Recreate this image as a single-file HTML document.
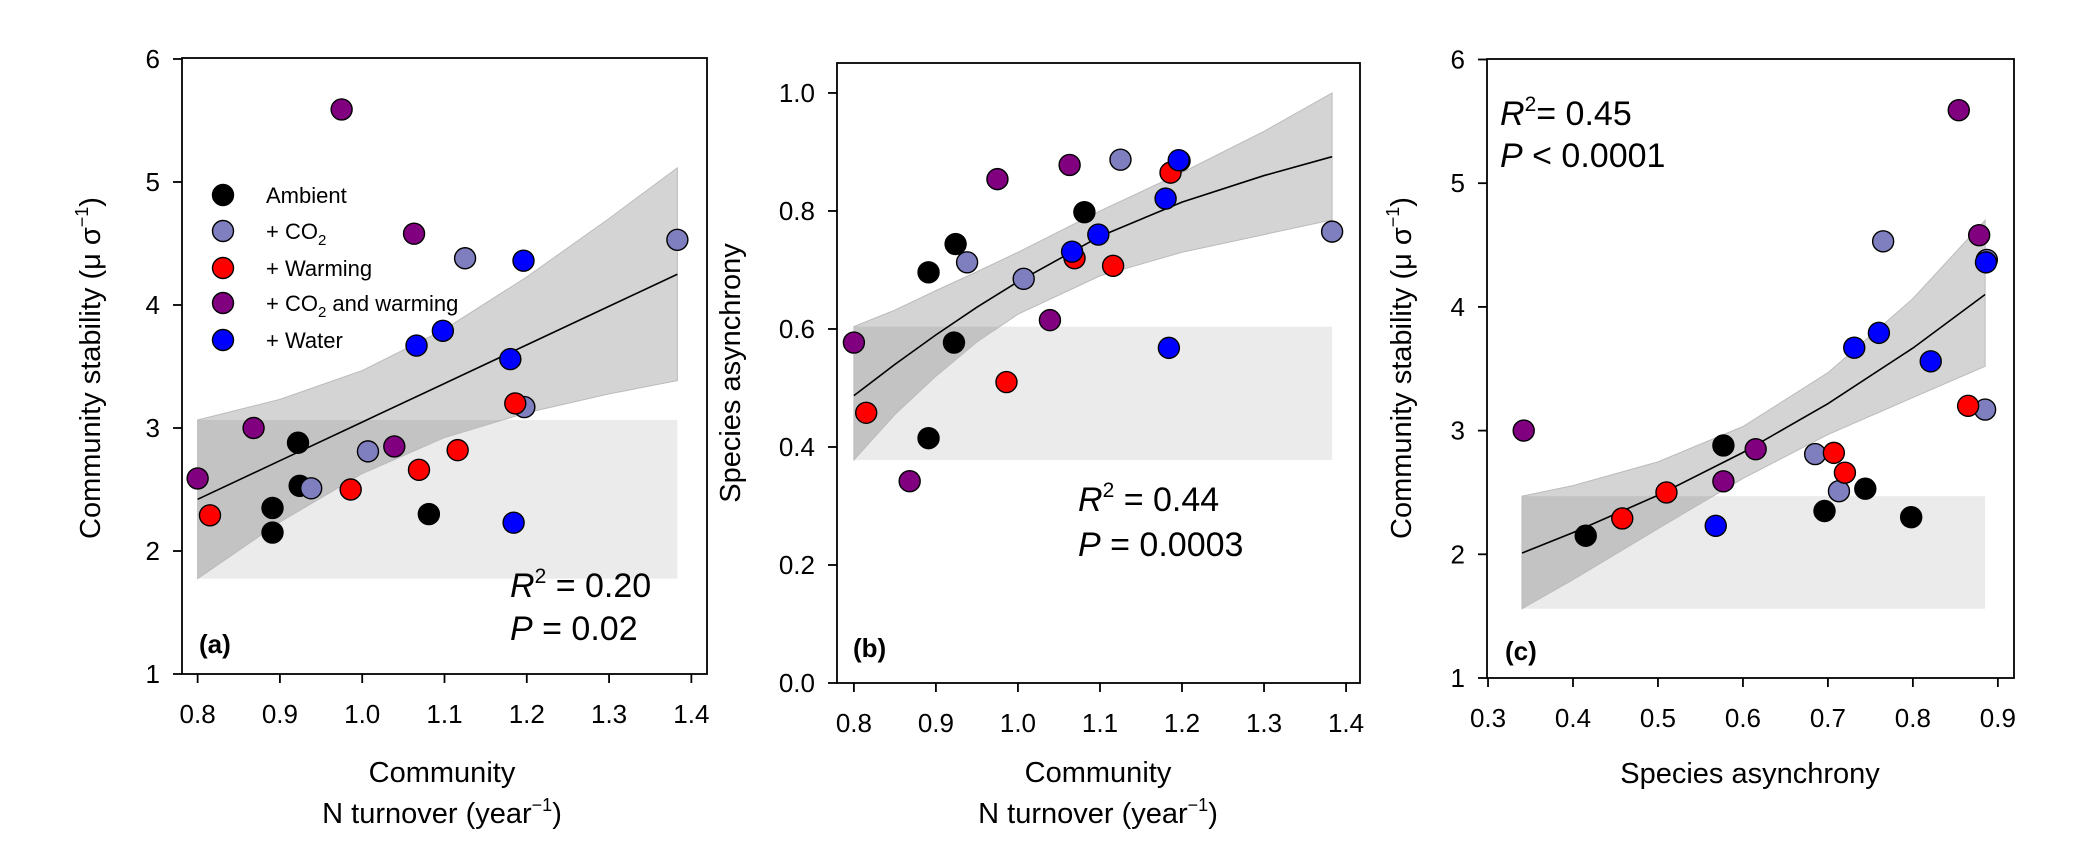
<!DOCTYPE html>
<html><head><meta charset="utf-8"><style>
html,body{margin:0;padding:0;background:#fff;}
svg{display:block;font-family:"Liberation Sans",Arial,sans-serif;}
</style></head><body>
<svg id="fig" width="2092" height="861" viewBox="0 0 2092 861" xmlns="http://www.w3.org/2000/svg"></svg>
<script>
// ---- data ----
const treatment = ['amb','amb','amb','amb','amb','co2','co2','co2','co2','co2','warm','warm','warm','warm','warm','cw','cw','cw','cw','cw','water','water','water','water','water'];
const nTurnover = [0.922,0.924,0.891,0.891,1.081,1.007,0.938,1.125,1.197,1.383,0.815,0.986,1.069,1.116,1.186,0.975,1.063,0.868,1.039,0.800,1.196,1.098,1.066,1.180,1.184];
const asynchrony = [0.577,0.744,0.696,0.415,0.798,0.685,0.713,0.887,0.885,0.765,0.458,0.510,0.720,0.707,0.865,0.854,0.878,0.342,0.615,0.577,0.886,0.760,0.731,0.821,0.568];
const stability = [2.88,2.53,2.35,2.15,2.30,2.81,2.51,4.38,3.17,4.53,2.29,2.50,2.66,2.82,3.20,5.59,4.58,3.00,2.85,2.59,4.36,3.79,3.67,3.56,2.23];
const legendLabels = ['Ambient','+ CO2','+ Warming','+ CO2 and warming','+ Water'];
// fitted curves & confidence bands
const fitAX = [0.8,0.9,1.0,1.1,1.2,1.3,1.383];
const fitALine = [2.42,2.734,3.048,3.362,3.676,3.99,4.25];
const fitAUpper = [3.065,3.233,3.467,3.802,4.228,4.703,5.115];
const fitALower = [1.775,2.235,2.629,2.922,3.124,3.277,3.385];
const fitBX = [0.8,0.85,0.9,0.95,1.0,1.1,1.2,1.3,1.383];
const fitBLine = [0.487,0.54,0.59,0.637,0.68,0.757,0.815,0.86,0.892];
const fitBUpper = [0.604,0.632,0.665,0.697,0.73,0.80,0.865,0.935,1.0];
const fitBLower = [0.378,0.455,0.52,0.578,0.625,0.69,0.73,0.76,0.785];
const fitCX = [0.34,0.4,0.5,0.6,0.7,0.8,0.885];
const fitCLine = [2.01,2.175,2.477,2.823,3.218,3.667,4.10];
const fitCUpper = [2.47,2.555,2.747,3.033,3.468,4.067,4.70];
const fitCLower = [1.56,1.795,2.207,2.613,2.968,3.267,3.52];
const ticksAY = [1,2,3,4,5,6];
const ticksAX = [0.8,0.9,1.0,1.1,1.2,1.3,1.4];
const ticksBY = [0,0.2,0.4,0.6,0.8,1.0];
const ticksCX = [0.3,0.4,0.5,0.6,0.7,0.8,0.9];

const colors = {amb:'#000000',co2:'#7f7fbf',warm:'#ff0000',cw:'#800080',water:'#0000ff'};
const NS='http://www.w3.org/2000/svg';
const fig=document.getElementById('fig');
function mk(tag,attrs,parent){const e=document.createElementNS(NS,tag);for(const k in attrs)e.setAttribute(k,attrs[k]);(parent||fig).appendChild(e);return e;}

function panel(cfg){
  const g=mk('g',{});
  
  
  const sx=v=>cfg.left+(v-cfg.xmin)/(cfg.xmax-cfg.xmin)*(cfg.right-cfg.left);
  const sy=v=>cfg.bottom-(v-cfg.ymin)/(cfg.ymax-cfg.ymin)*(cfg.bottom-cfg.top);
  // background rect artifact
  const fx=cfg.fx;
  const r=mk('rect',{x:sx(fx[0]),y:sy(cfg.up[0]),width:sx(fx[fx.length-1])-sx(fx[0]),height:sy(cfg.lo[0])-sy(cfg.up[0]),fill:'#000','fill-opacity':0.08},g);
  
  
  let d='M'+fx.map((x,i)=>sx(x)+','+sy(cfg.up[i])).join(' L');
  for(let i=fx.length-1;i>=0;i--)d+=' L'+sx(fx[i])+','+sy(cfg.lo[i]);
  const band=mk('path',{d:d+'Z',fill:'#000','fill-opacity':0.17,stroke:'#bbb','stroke-width':1},g);
  
  
  const ln=mk('polyline',{points:fx.map((x,i)=>sx(x)+','+sy(cfg.line[i])).join(' '),fill:'none',stroke:'#000','stroke-width':1.6},g);
  
  
  for(let i=0;i<treatment.length;i++){
    const c=mk('circle',{cx:sx(cfg.xs[i]),cy:sy(cfg.ys[i]),r:10.5,fill:colors[treatment[i]],stroke:'#000','stroke-width':1.4},g);
    
    
  }
  const fr=mk('rect',{x:cfg.left,y:cfg.top,width:cfg.right-cfg.left,height:cfg.bottom-cfg.top,fill:'none',stroke:'#000','stroke-width':1.8},g);
  
  
  cfg.ty.forEach(v=>{
    mk('line',{x1:cfg.left-9,x2:cfg.left,y1:sy(v),y2:sy(v),stroke:'#000','stroke-width':1.8},g);
    const t=mk('text',{x:cfg.left-22,y:sy(v)+9,'text-anchor':'end','font-size':26},g);
    t.textContent=cfg.fy(v);
    
    
  });
  cfg.tx.forEach(v=>{
    mk('line',{x1:sx(v),x2:sx(v),y1:cfg.bottom,y2:cfg.bottom+9,stroke:'#000','stroke-width':1.8},g);
    const t=mk('text',{x:sx(v),y:cfg.bottom+49,'text-anchor':'middle','font-size':26},g);
    t.textContent=v.toFixed(1);
    
    
  });
  return {sx,sy,g};
}

panel({name:'panel-a',left:182,right:707,top:58,bottom:674,xmin:0.781,xmax:1.419,ymin:1,ymax:6.008,
  fx:fitAX,line:fitALine,up:fitAUpper,lo:fitALower,xs:nTurnover,ys:stability,ty:ticksAY,tx:ticksAX,fy:v=>String(v)});
panel({name:'panel-b',left:837,right:1360,top:63,bottom:683,xmin:0.7794,xmax:1.417,ymin:0,ymax:1.0508,
  fx:fitBX,line:fitBLine,up:fitBUpper,lo:fitBLower,xs:nTurnover,ys:asynchrony,ty:ticksBY,tx:ticksAX,fy:v=>v.toFixed(1)});
panel({name:'panel-c',left:1487,right:2014,top:59,bottom:678,xmin:0.2988,xmax:0.919,ymin:1,ymax:6.004,
  fx:fitCX,line:fitCLine,up:fitCUpper,lo:fitCLower,xs:asynchrony,ys:stability,ty:ticksAY,tx:ticksCX,fy:v=>String(v)});

// legend
const legKeys=['amb','co2','warm','cw','water'];
const legY=[195,231,268,303,340];
legKeys.forEach((k,i)=>{
  const c=mk('circle',{cx:223,cy:legY[i],r:10.5,fill:colors[k],stroke:'#000','stroke-width':1.4});
  
  
  const t=mk('text',{x:266,y:legY[i]+8,'font-size':22});
  
  
  const lab=legendLabels[i];
  if(lab.indexOf('CO2')>=0){
    const parts=lab.split('CO2');
    t.appendChild(document.createTextNode(parts[0]+'CO'));
    const s=mk('tspan',{'font-size':15,dy:6},t);s.textContent='2';
    const r2=mk('tspan',{dy:-6},t);r2.textContent=parts[1];
  } else t.textContent=lab;
});
</script>
<svg width="2092" height="861" style="position:absolute;left:0;top:0" xmlns="http://www.w3.org/2000/svg" font-family="Liberation Sans, Arial, sans-serif">
  <text x="100" y="368" font-size="29" text-anchor="middle" transform="rotate(-90 100 368)">Community stability (μ σ<tspan font-size="18" dy="-12">−1</tspan><tspan dy="12">)</tspan></text>
  <text x="740" y="373" font-size="29" text-anchor="middle" transform="rotate(-90 740 373)">Species asynchrony</text>
  <text x="1411" y="368" font-size="29" text-anchor="middle" transform="rotate(-90 1411 368)">Community stability (μ σ<tspan font-size="18" dy="-12">−1</tspan><tspan dy="12">)</tspan></text>
  <text x="442" y="782" font-size="29" text-anchor="middle">Community</text>
  <text x="442" y="823" font-size="29" text-anchor="middle">N turnover (year<tspan font-size="18" dy="-12">−1</tspan><tspan dy="12">)</tspan></text>
  <text x="1098" y="782" font-size="29" text-anchor="middle">Community</text>
  <text x="1098" y="823" font-size="29" text-anchor="middle">N turnover (year<tspan font-size="18" dy="-12">−1</tspan><tspan dy="12">)</tspan></text>
  <text x="1750" y="783" font-size="29" text-anchor="middle">Species asynchrony</text>
  <text x="510" y="597" font-size="34"><tspan font-style="italic">R</tspan><tspan font-size="21" dy="-14">2</tspan><tspan dy="14"> = 0.20</tspan></text>
  <text x="510" y="640" font-size="34"><tspan font-style="italic">P</tspan> = 0.02</text>
  <text x="1078" y="511" font-size="34"><tspan font-style="italic">R</tspan><tspan font-size="21" dy="-14">2</tspan><tspan dy="14"> = 0.44</tspan></text>
  <text x="1078" y="556" font-size="34"><tspan font-style="italic">P</tspan> = 0.0003</text>
  <text x="1500" y="125" font-size="34"><tspan font-style="italic">R</tspan><tspan font-size="21" dy="-14">2</tspan><tspan dy="14">= 0.45</tspan></text>
  <text x="1500" y="167" font-size="34"><tspan font-style="italic">P</tspan> &lt; 0.0001</text>
  <text x="199" y="653" font-size="26" font-weight="bold">(a)</text>
  <text x="853" y="657" font-size="26" font-weight="bold">(b)</text>
  <text x="1505" y="660" font-size="26" font-weight="bold">(c)</text>
</svg>
</body></html>
